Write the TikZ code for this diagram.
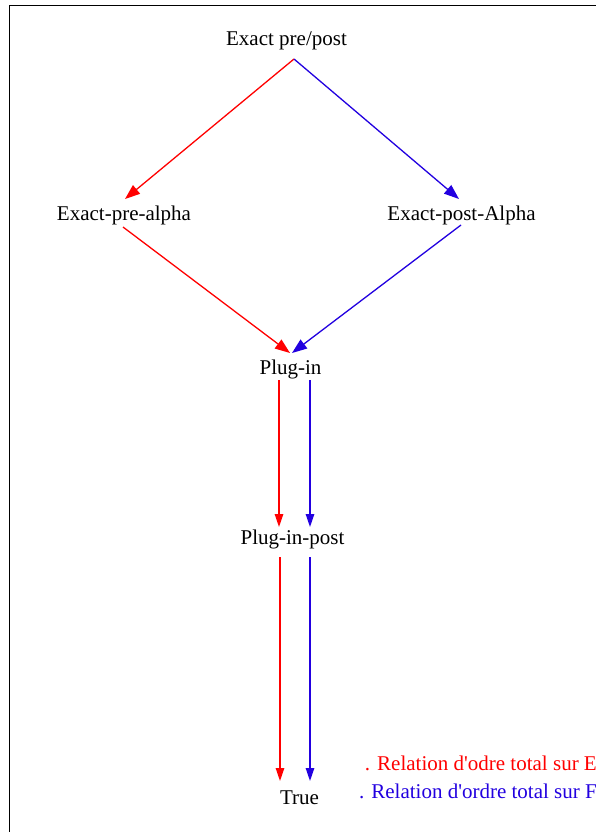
\documentclass[tikz,border=0pt]{standalone}
\usepackage{fontspec}
\setmainfont{Liberation Serif}[Ligatures=TeXOff]
\usetikzlibrary{arrows.meta,calc}
\definecolor{rred}{RGB}{255,0,0}
\definecolor{bblue}{RGB}{34,0,224}
\tikzset{
  lbl/.style={anchor=base,inner sep=0pt,font=\fontsize{21}{24}\selectfont},
  redarr/.style={draw=rred,line width=1.3pt,-{Triangle[length=15pt,width=11pt]}},
  bluearr/.style={draw=bblue,line width=1.3pt,-{Triangle[length=15pt,width=11pt]}},
  redv/.style={draw=rred,line width=1.3pt,-{Triangle[length=13pt,width=8.5pt]}},
  bluev/.style={draw=bblue,line width=1.3pt,-{Triangle[length=13pt,width=8.5pt]}}
}
\begin{document}
\begin{tikzpicture}[x=1pt,y=-1pt]
\useasboundingbox (0,0) rectangle (596,832);
\fill[white] (0,0) rectangle (596,832);
\draw[line width=1.1pt] (9.5,840) -- (9.5,5.5) -- (600,5.5);

\node[lbl] (top) at (286.5,46) {Exact pre/post};
\node[lbl] (pre) at (124,220) {Exact-pre-alpha};
\node[lbl] (post) at (461.5,220) {Exact-post-Alpha};
\node[lbl] (plug) at (290.5,374) {Plug-in};
\node[lbl] (pip) at (292.5,544) {Plug-in-post};
\node[lbl] (true) at (299.5,804) {True};

\node[lbl,anchor=base east,text=rred] (legE) at (597,770) {. Relation d'odre total sur E};
\node[lbl,anchor=base east,text=bblue] (legF) at (597,798) {. Relation d'ordre total sur F};

\draw[redarr] ($(top.base)+(7.5,13)$) -- ($(pre.base)+(1,-21)$);
\draw[bluearr] ($(top.base)+(7.5,13)$) -- ($(post.base)+(-2.5,-21)$);
\draw[redarr] ($(pre.base)+(-1,7)$) -- ($(plug.base)+(-0.5,-21)$);
\draw[bluearr] ($(post.base)+(-0.5,5)$) -- ($(plug.base)+(1.5,-21)$);

\draw[redv] ($(plug.base)+(-11.5,6)$) -- ($(pip.base)+(-13.5,-17)$);
\draw[bluev] ($(plug.base)+(19.5,6)$) -- ($(pip.base)+(17.5,-17)$);
\draw[redv] ($(pip.base)+(-12.5,13)$) -- ($(true.base)+(-19.5,-23)$);
\draw[bluev] ($(pip.base)+(17.5,13)$) -- ($(true.base)+(10.5,-23)$);
\end{tikzpicture}
\end{document}
